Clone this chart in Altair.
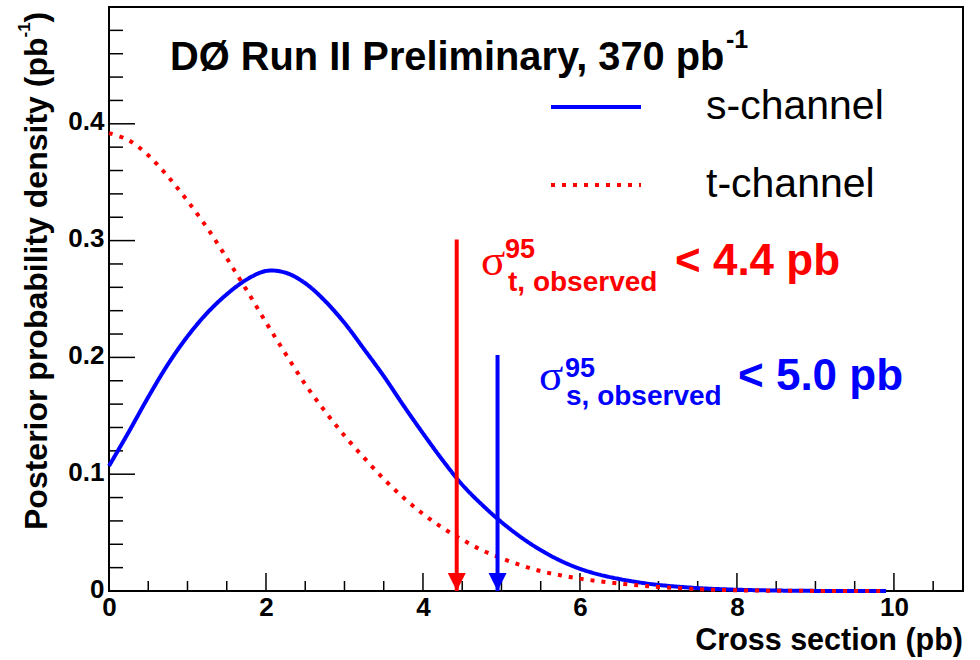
import altair as alt
import pandas as pd

# ---------------- data ----------------
channels = ["s-channel", "t-channel"]
grid_x = [0.0, 0.25, 0.5, 0.75, 1.0, 1.25, 1.5, 1.75, 2.0, 2.25, 2.5, 2.75, 3.0,
          3.25, 3.5, 3.75, 4.0, 4.25, 4.5, 4.75, 5.0, 5.25, 5.5, 5.75, 6.0, 6.25,
          6.5, 6.75, 7.0, 7.5, 8.0, 8.5, 9.0, 9.9]
s_channel = [0.107, 0.136, 0.166, 0.194, 0.218, 0.238, 0.254, 0.2665, 0.274, 0.2725,
             0.2635, 0.2485, 0.2295, 0.207, 0.184, 0.159, 0.135, 0.112, 0.091, 0.074,
             0.059, 0.046, 0.035, 0.026, 0.019, 0.014, 0.0103, 0.0074, 0.0052,
             0.0025, 0.0011, 0.0004, 0.0001, 0.0]
t_channel = [0.392, 0.386, 0.373, 0.355, 0.334, 0.311, 0.285, 0.258, 0.230, 0.203,
             0.177, 0.154, 0.133, 0.114, 0.096, 0.080, 0.066, 0.054, 0.044, 0.035,
             0.028, 0.022, 0.017, 0.0135, 0.0106, 0.0083, 0.0064, 0.0048, 0.0035,
             0.0016, 0.0006, 0.0002, 0.0001, 0.0]

t_limit_x = [4.43]
t_limit_top = [0.301]
s_limit_x = [4.95]
s_limit_top = [0.202]

x_labels = [0, 2, 4, 6, 8, 10]
y_labels = [0, 0.1, 0.2, 0.3, 0.4]
x_major_ticks = [0, 2, 4, 6, 8, 10]
x_minor_ticks = [0.5, 1.0, 1.5, 2.5, 3.0, 3.5, 4.5, 5.0, 5.5, 6.5, 7.0, 7.5,
                 8.5, 9.0, 9.5, 10.5]
y_major_ticks = [0, 0.1, 0.2, 0.3, 0.4]
y_minor_ticks = [0.02, 0.04, 0.06, 0.08, 0.12, 0.14, 0.16, 0.18, 0.22, 0.24,
                 0.26, 0.28, 0.32, 0.34, 0.36, 0.38, 0.42, 0.44, 0.46, 0.48]

x_domain = [0, 10.88]
y_domain = [0, 0.5]

# ---------------- build ----------------
W, H = 854, 584
FONT = "Liberation Sans"
RED = "#ff0000"
BLUE = "#0000ff"

n = len(grid_x)
df = pd.DataFrame({
    "x": grid_x + grid_x,
    "y": s_channel + t_channel,
    "channel": [channels[0]] * n + [channels[1]] * n,
})

xs = alt.Scale(domain=x_domain, nice=False, zero=False)
ys = alt.Scale(domain=y_domain, nice=False, zero=False)

x_axis = alt.Axis(
    values=x_labels, format="d", ticks=False, domain=False, grid=False,
    labelFontSize=26, labelFontWeight="bold", labelFont=FONT,
    labelColor="black", labelPadding=3, labelFlush=False, title=None)
y_axis = alt.Axis(
    values=y_labels, format="~g", ticks=False, domain=False, grid=False,
    labelFontSize=26, labelFontWeight="bold", labelFont=FONT,
    labelColor="black", labelPadding=5, labelOffset=-2, title=None)

legend = alt.Legend(
    title=None, orient="none", legendX=440, legendY=53,
    symbolType="stroke", symbolSize=8100, symbolStrokeWidth=4,
    labelFontSize=41, labelFont=FONT, labelColor="black", labelLimit=0,
    labelOffset=63, rowPadding=11, padding=0,
)

curves = alt.Chart(df).mark_line(strokeWidth=4, interpolate="catmull-rom",
                                 strokeCap="butt").encode(
    x=alt.X("x:Q", scale=xs, axis=x_axis),
    y=alt.Y("y:Q", scale=ys, axis=y_axis),
    color=alt.Color("channel:N", scale=alt.Scale(domain=channels, range=[BLUE, RED]),
                    legend=legend),
    strokeDash=alt.StrokeDash("channel:N",
                              scale=alt.Scale(domain=channels, range=[[1, 0], [4, 7]]),
                              legend=legend),
)


def xticks(vals, length):
    return alt.Chart(pd.DataFrame({"x": vals})).mark_rule(
        color="black", strokeWidth=1.5).encode(
        x=alt.X("x:Q", scale=xs, axis=x_axis),
        y=alt.value(H), y2=alt.value(H - length))


def yticks(vals, length):
    return alt.Chart(pd.DataFrame({"y": vals})).mark_rule(
        color="black", strokeWidth=1.5).encode(
        y=alt.Y("y:Q", scale=ys, axis=y_axis),
        x=alt.value(0), x2=alt.value(length))


def arrow(xv, topv, color):
    d = pd.DataFrame({"x": xv, "y": topv, "y0": [0] * len(xv)})
    line = alt.Chart(d).mark_rule(color=color, strokeWidth=4).encode(
        x=alt.X("x:Q", scale=xs, axis=x_axis),
        y=alt.Y("y:Q", scale=ys, axis=y_axis),
        y2="y0:Q")
    head = alt.Chart(d).mark_point(
        shape="M-1,-2L1,-2L0,0Z", size=324, filled=True, color=color,
        opacity=1, strokeWidth=0).encode(
        x=alt.X("x:Q", scale=xs, axis=x_axis),
        y=alt.Y("y0:Q", scale=ys, axis=y_axis))
    return line + head


one = pd.DataFrame({"k": [0]})


def txt(s, x, y, size, color="black", weight="bold", font=FONT, angle=0,
        align="left"):
    return alt.Chart(one).mark_text(
        text=s, fontSize=size, color=color, fontWeight=weight, font=font,
        angle=angle, align=align, baseline="alphabetic").encode(
        x=alt.value(x), y=alt.value(y))


texts = [
    txt("DØ Run II Preliminary, 370 pb", 61, 63, 39.8),
    txt("-1", 617, 41, 25),
    # red limit
    txt("σ", 372, 268, 45, color=RED, weight="normal", font="Liberation Serif"),
    txt("95", 396, 251, 27, color=RED),
    txt("t, observed", 399, 284, 28, color=RED),
    txt("< 4.4 pb", 566, 268, 44, color=RED),
    # blue limit
    txt("σ", 430, 383, 45, color=BLUE, weight="normal", font="Liberation Serif"),
    txt("95", 456, 370, 27, color=BLUE),
    txt("s, observed", 457, 398, 28, color=BLUE),
    txt("< 5.0 pb", 629, 383, 44, color=BLUE),
    # axis titles
    txt("Cross section (pb)", W, 643, 30.5, align="right"),
    txt("Posterior probability density (pb", -62, 523, 32, angle=270),
    txt("-1", -79, 30.5, 17, angle=270),
    txt(")", -62, 15.5, 32, angle=270),
]

layers = [
    xticks(x_major_ticks, 18), xticks(x_minor_ticks, 10),
    yticks(y_major_ticks, 26), yticks(y_minor_ticks, 14),
    curves,
    arrow(t_limit_x, t_limit_top, RED),
    arrow(s_limit_x, s_limit_top, BLUE),
] + texts

chart = alt.layer(*layers).properties(
    width=W, height=H,
    padding={"left": 109, "top": 7, "right": 17, "bottom": 69},
    autosize=alt.AutoSizeParams(type="none"),
    background="white",
).configure_view(stroke="black", strokeWidth=2)

chart.save("out.html", embed_options={"renderer": "svg", "actions": False})
